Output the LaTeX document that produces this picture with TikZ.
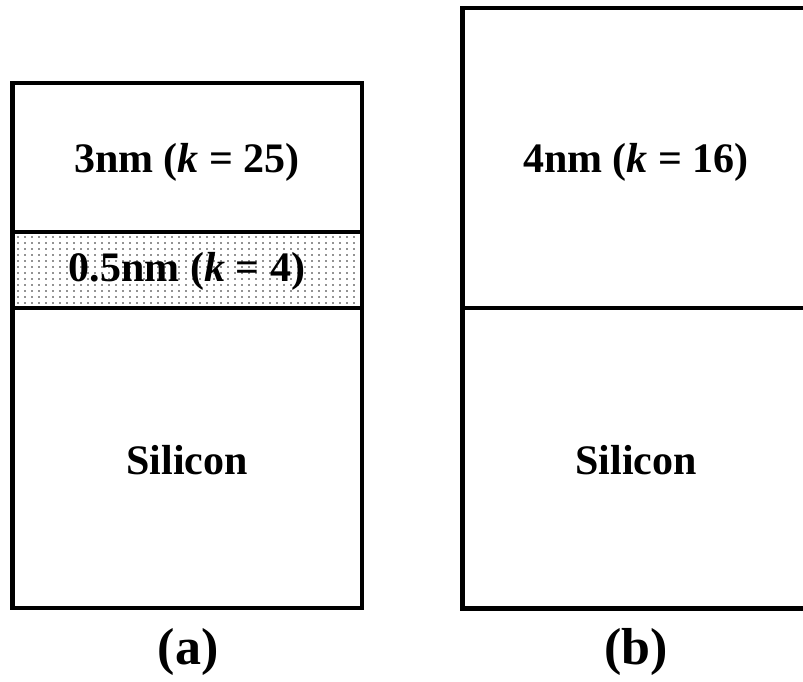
\documentclass[tikz,border=0pt]{standalone}
\usepackage{fontspec}
\setmainfont{Liberation Serif}
\begin{document}
\begin{tikzpicture}[x=1pt,y=-1pt,
  wall/.style={line width=4.6pt},
  lbl/.style={font=\fontsize{42}{48}\selectfont\bfseries, inner sep=0pt},
  figcap/.style={font=\fontsize{52}{58}\selectfont\bfseries, inner sep=0pt}]
\useasboundingbox (0,0) rectangle (803,681);
\clip (0,0) rectangle (803,681);
% dotted layer
\fill[white] (12.5,232) rectangle (362,308);
\foreach \r in {0,...,11}{
  \pgfmathsetmacro{\yy}{237+6*\r}
  \foreach \c in {0,...,48}{
    \pgfmathsetmacro{\xx}{18+7*\c}
    \fill[black!85] (\xx,\yy) circle (0.95);
  }
}
% left stack
\draw[wall] (12.5,83) rectangle (362,608);
\draw[wall] (12.5,232) -- (362,232);
\draw[wall] (12.5,308) -- (362,308);
% right stack
\draw[wall] (820,8) -- (462.5,8) -- (462.5,608.5) -- (820,608.5);
\draw[wall] (462.5,308) -- (820,308);
% labels
\node[lbl] (a1) at (187,162) {3nm (\textit{k} = 25)};
\node[lbl] (a2) at (187,271) {0.5nm (\textit{k} = 4)};
\node[lbl] (a3) at (187,460) {Silicon};
\node[lbl] (b1) at (636,162) {4nm (\textit{k} = 16)};
\node[lbl] (b3) at (636,460) {Silicon};
\node[figcap] (ca) at (188,652) {(a)};
\node[figcap] (cb) at (636,652) {(b)};
\end{tikzpicture}
\end{document}
